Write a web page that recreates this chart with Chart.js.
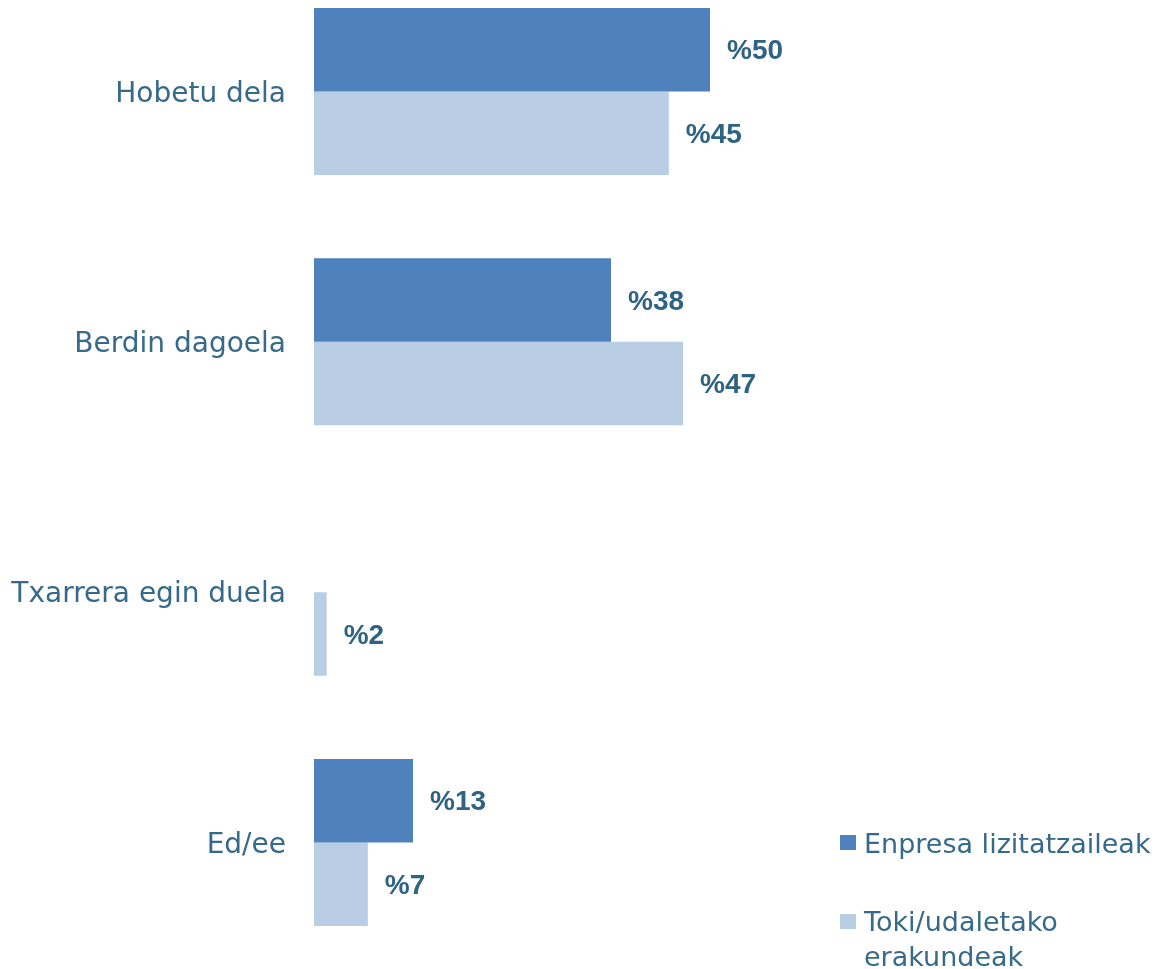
<!DOCTYPE html>
<html>
<head>
<meta charset="utf-8">
<script src="https://cdn.jsdelivr.net/npm/chart.js@4/dist/chart.umd.min.js"></script>
<style>
    body { margin: 0; background: #fff; }
    .contenedor { position: relative; width: 1156px; height: 969px; }
    .leyenda { position: absolute; font-family: "DejaVu Sans", sans-serif; font-size: 27px; line-height: 35px; color: #376a8a; }
    .cuadro { position: absolute; width: 16px; height: 15px; }
</style>
</head>
<body>
<div class="contenedor">
    <canvas id="grafico" width="1156" height="969"></canvas>

    <div class="cuadro" style="left:840px; top:835px; background:#4f81bd;"></div>
    <div class="leyenda" style="left:864px; top:826px;">Enpresa lizitatzaileak</div>

    <div class="cuadro" style="left:840px; top:914px; background:#b9cde5;"></div>
    <div class="leyenda" style="left:864px; top:904px;">Toki/udaletako<br>erakundeak</div>
</div>

<script>
// Datos del grafico
const categorias = ['Hobetu dela', 'Berdin dagoela', 'Txarrera egin duela', 'Ed/ee'];
const enpresas = [50, 37.5, null, 12.5];
const tokiErakundeak = [44.8, 46.6, 1.6, 6.8];

const nombreEnpresas = 'Enpresa lizitatzaileak';
const nombreToki = 'Toki/udaletako erakundeak';

//Etiquetas de porcentaje al final de cada barra
const etiquetasBarras = {
    id: 'etiquetasBarras',
    afterDatasetsDraw(chart) {
        const ctx = chart.ctx;
        ctx.save();
        ctx.font = 'bold 28px "Liberation Sans", Arial, sans-serif';
        ctx.fillStyle = '#2e6383';
        ctx.textAlign = 'left';
        ctx.textBaseline = 'middle';
        chart.data.datasets.forEach((ds, i) => {
            const meta = chart.getDatasetMeta(i);
            meta.data.forEach((barra, j) => {
                const valor = ds.data[j];
                if (valor === null) return;
                ctx.fillText('%' + Math.round(valor), barra.x + 17, barra.y + 2);
            });
        });
        ctx.restore();
    }
};

const ctx = document.getElementById('grafico').getContext('2d');
let myChart = new Chart(ctx, {
    type: 'bar',
    data: {
        labels: categorias,
        datasets: [{
            label: nombreEnpresas,
            data: enpresas,
            backgroundColor: '#4f81bd',
            clip: false
        }, {
            label: nombreToki,
            data: tokiErakundeak,
            backgroundColor: '#b9cde5',
            clip: false
        }]
    },
    options: {
        indexAxis: 'y',
        responsive: false,
        animation: false,
        categoryPercentage: 0.667,
        barPercentage: 1,
        layout: {
            padding: { top: 91.5, bottom: 126.5, left: 0, right: 50 }
        },
        plugins: {
            legend: { display: false },
            tooltip: { enabled: false }
        },
        scales: {
            x: {
                display: false,
                min: 0,
                max: 100
            },
            y: {
                offset: false,
                grid: { display: false, drawTicks: false },
                border: { display: false },
                ticks: {
                    padding: 28,
                    labelOffset: 3,
                    color: '#376a8a',
                    font: { family: '"DejaVu Sans", sans-serif', size: 28 }
                },
                afterFit(scale) {
                    scale.width = 314;
                }
            }
        }
    },
    plugins: [etiquetasBarras]
});
</script>
</body>
</html>
